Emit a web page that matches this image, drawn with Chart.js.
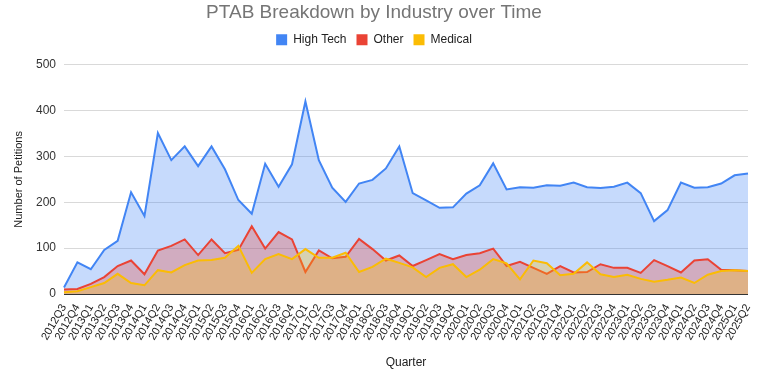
<!DOCTYPE html>
<html>
<head>
<meta charset="utf-8">
<script src="https://cdn.jsdelivr.net/npm/chart.js@4"></script>
<style>
  html, body { margin: 0; padding: 0; background: #fff; }
  #wrap { width: 763px; height: 372px; position: relative; }
</style>
</head>
<body>
<div id="wrap"><canvas id="c"></canvas></div>
<script>
const quarters = [];
for (let y = 2012; y <= 2025; y++) {
  for (let q = 1; q <= 4; q++) {
    if ((y === 2012 && q < 3) || (y === 2025 && q > 2)) continue;
    quarters.push(y + 'Q' + q);
  }
}
const highTech = [14,69,54,96,116,222,170,351,292,322,279,322,272,205,175,284,234,283,420,292,232,201,241,249,274,322,220,204,188,189,219,237,285,228,233,232,237,236,243,233,231,234,243,220,159,183,243,232,233,241,259,263];
const other = [10,11,22,37,61,73,43,95,105,119,85,119,89,96,148,99,135,119,48,95,78,81,120,98,73,84,61,74,87,76,85,89,99,61,70,57,44,61,47,48,65,57,57,46,74,61,47,73,76,53,52,50];
const medical = [4,6,15,24,44,24,19,52,47,63,73,74,79,105,46,76,87,76,98,79,79,90,48,59,77,68,58,37,57,65,37,53,76,67,32,73,67,41,44,69,43,37,42,33,27,31,36,24,42,50,52,50];
const yTicks = [0, 100, 200, 300, 400, 500];

const FONT = "'Liberation Sans', Arial, sans-serif";
const solid = ['#4285F4', '#EA4335', '#FBBC04'];

const legendGap = {
  id: 'legendGap',
  beforeLayout(chart) {
    const lg = chart.legend;
    if (lg && !lg._gapWrapped) {
      const orig = lg.fit;
      lg.fit = function () { orig.apply(this, arguments); this.height += 9; };
      lg._gapWrapped = true;
    }
  }
};

new Chart(document.getElementById('c'), {
  type: 'line',
  data: {
    labels: quarters,
    datasets: [
      { label: 'High Tech', data: highTech, borderColor: solid[0], backgroundColor: 'rgba(66,133,244,0.3)', fill: 'origin', order: 3 },
      { label: 'Other', data: other, borderColor: solid[1], backgroundColor: 'rgba(234,67,53,0.3)', fill: 'origin', order: 2 },
      { label: 'Medical', data: medical, borderColor: solid[2], backgroundColor: 'rgba(251,188,4,0.3)', fill: 'origin', order: 1 }
    ]
  },
  plugins: [legendGap],
  options: {
    responsive: true,
    maintainAspectRatio: false,
    animation: false,
    layout: { padding: { left: 0, right: 15, top: 0, bottom: 0 } },
    elements: {
      line: { borderWidth: 2, tension: 0 },
      point: { radius: 0, hoverRadius: 0 }
    },
    plugins: {
      tooltip: { enabled: false },
      title: {
        display: true,
        text: 'PTAB Breakdown by Industry over Time',
        color: '#757575',
        font: { family: FONT, size: 19, weight: 'normal' },
        padding: { top: 1, bottom: 0 }
      },
      legend: {
        display: true,
        position: 'top',
        labels: {
          boxWidth: 11,
          boxHeight: 11,
          padding: 10,
          color: '#222',
          font: { family: FONT, size: 12 },
          sort: (a, b) => a.datasetIndex - b.datasetIndex,
          generateLabels: (chart) => {
            const items = Chart.defaults.plugins.legend.labels.generateLabels(chart);
            items.forEach(it => {
              it.fillStyle = solid[it.datasetIndex];
              it.strokeStyle = solid[it.datasetIndex];
              it.lineWidth = 0;
            });
            return items;
          }
        }
      }
    },
    scales: {
      x: {
        grid: { display: false },
        border: { display: false },
        ticks: {
          autoSkip: false,
          minRotation: 60,
          maxRotation: 60,
          color: '#222',
          font: { family: FONT, size: 11 },
          padding: 0
        },
        title: {
          display: true,
          text: 'Quarter',
          color: '#222',
          font: { family: FONT, size: 12 },
          padding: { top: 0, bottom: 2 }
        },
        afterFit: (s) => { s.height = 78; }
      },
      y: {
        min: 0,
        max: 500,
        afterBuildTicks: (s) => { s.ticks = yTicks.map(v => ({ value: v })); },
        grid: {
          color: (ctx) => ctx.tick && ctx.tick.value === 0 ? '#333' : '#d9d9d9',
          lineWidth: 1,
          drawTicks: false
        },
        border: { display: false },
        ticks: {
          color: '#333',
          font: { family: FONT, size: 12 },
          padding: 8
        },
        title: {
          display: true,
          text: 'Number of Petitions',
          color: '#222',
          font: { family: FONT, size: 11 },
          padding: { top: 12, bottom: 4 }
        },
        afterFit: (s) => { s.width = 64; }
      }
    }
  }
});
</script>
</body>
</html>
